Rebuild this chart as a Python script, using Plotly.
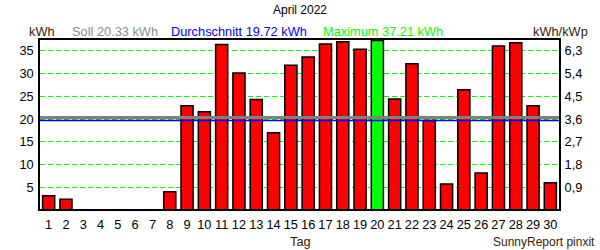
import plotly.graph_objects as go

days = list(range(1, 31))
kwh = [3.25, 2.5, 0, 0, 0, 0, 0, 4.1, 22.9, 21.6,
       36.3, 30.1, 24.3, 17.0, 31.8, 33.6, 36.4, 36.9, 35.3, 37.21,
       24.4, 32.1, 19.7, 5.8, 26.4, 8.2, 36.0, 36.7, 22.9, 6.1]
soll = 20.33
avg = 19.72
maximum = 37.21
kwp = 1 / 0.18
left_ticks = [5, 10, 15, 20, 25, 30, 35]
right_ticks = [0.9, 1.8, 2.7, 3.6, 4.5, 5.4, 6.3]
right_labels = ["0,9", "1,8", "2,7", "3,6", "4,5", "5,4", "6,3"]

FONT = "Liberation Sans, Arial, sans-serif"
FS = 12
FSH = 12.8
W, H = 600, 250
L, R, T, B = 40, 41, 40, 41
pw = W - L - R
ph = H - T - B

colors = ["#00ff00" if v == max(kwh) else "#ff0000" for v in kwh]
ymin, ymax = 0.35, 37.3

fig = go.Figure()
fig.add_trace(go.Bar(x=days, y=kwh, marker=dict(color=colors, line=dict(color="black", width=1.5)),
                     width=0.7, hoverinfo="skip"))
fig.add_trace(go.Scatter(x=days, y=[v / kwp for v in kwh], yaxis="y2", mode="markers",
                         marker=dict(opacity=0), hoverinfo="skip"))

fig.add_shape(type="line", xref="paper", x0=0, x1=1, yref="y", y0=soll, y1=soll,
              line=dict(color="#808080", width=3))
fig.add_shape(type="line", xref="paper", x0=0, x1=1, yref="y", y0=avg, y1=avg,
              line=dict(color="#0000ff", width=1.5))


def px(xp):
    return (xp - L) / pw


def py(yp):
    return (H - B - yp) / ph


annots = [
    ("April 2022", 300, 10, "center", "black", FS),
    ("kWh", 27, 32, "left", "#3c2000", FSH),
    ("Soll %.2f kWh" % soll, 70, 32, "left", "#8c8c8c", FSH),
    ("Durchschnitt %.2f kWh" % avg, 169, 32, "left", "#0000ff", FSH),
    ("Maximum %.2f kWh" % maximum, 321, 32, "left", "#00ff00", FSH),
    ("kWh/kWp", 590, 32, "right", "#3c2000", FSH),
    ("Tag", 300, 242, "center", "#3c2000", FSH),
    ("SunnyReport pinxit", 597, 242, "right", "#3c2000", FS),
]
for text, x, y, anchor, col, size in annots:
    fig.add_annotation(text=text, xref="paper", yref="paper", x=px(x), y=py(y),
                       xanchor=anchor, yanchor="middle", showarrow=False,
                       font=dict(family=FONT, size=size, color=col))

fig.update_layout(
    width=W, height=H, margin=dict(l=L, r=R, t=T, b=B, pad=0),
    paper_bgcolor="white", plot_bgcolor="white", showlegend=False,
    font=dict(family=FONT, size=FS, color="black"),
    xaxis=dict(range=[0.5, 30.5], tickvals=days, ticktext=[str(d) for d in days],
               showgrid=False, showline=True, linecolor="black", linewidth=1.5, mirror=True,
               ticks="outside", ticklen=3, tickcolor="rgba(0,0,0,0)", zeroline=False,
               tickfont=dict(size=FSH)),
    yaxis=dict(range=[ymin, ymax], tickvals=left_ticks, showgrid=True, gridcolor="#00ff00",
               griddash="5px,3px", gridwidth=1, showline=True, linecolor="black", linewidth=1.5,
               mirror=True, zeroline=False, ticks="outside", ticklen=2,
               tickcolor="rgba(0,0,0,0)", tickfont=dict(size=FSH)),
    yaxis2=dict(range=[ymin / kwp, ymax / kwp], overlaying="y", side="right",
                tickvals=right_ticks, ticktext=right_labels, showgrid=False, zeroline=False,
                showline=False, ticks="outside", ticklen=2, tickcolor="rgba(0,0,0,0)",
                tickfont=dict(size=FSH)),
)

fig.write_html("out.html")
